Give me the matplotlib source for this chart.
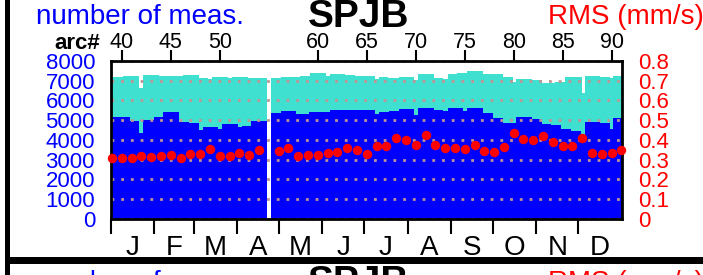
import matplotlib
matplotlib.use("Agg")
import matplotlib.pyplot as plt
from matplotlib.patches import Rectangle

plt.rcParams['font.family'] = ['Liberation Sans', 'DejaVu Sans']
plt.rcParams['lines.scale_dashes'] = False

# ---------------- data ----------------
station = "SPJB"
months = ["J", "F", "M", "A", "M", "J", "J", "A", "S", "O", "N", "D"]
month_start_days = [0, 31, 59, 90, 120, 151, 181, 212, 243, 273, 304, 334, 365]

# total number of measurements (turquoise), step edges in day-of-year
total_edges = [0, 8.8, 20.2, 23.1, 34.5, 37.4, 51.3, 62.7, 69.1, 72.2, 83.6, 86.5,
               97.9, 100.3, 111.5, 114.6, 121.7, 135.3, 142.5, 153.7, 156.8, 167.5,
               174.6, 188.9, 191.4, 198.0, 205.6, 216.6, 219.4, 230.7, 237.5, 240.6,
               247.1, 254.3, 266.1, 273.3, 280.0, 287.1, 289.5, 300.7, 307.9, 317.4,
               324.5, 336.3, 338.8, 349.5, 356.7, 358.6, 365]
total_meas = [7190, 7220, 6630, 7270, 7220, 7250, 7290, 7150, 7090, 7190, 7120, 7190,
              7120, 7150, 0, 7150, 7200, 7260, 7380, 7260, 7330, 7270, 7220, 7100,
              7190, 7150, 7190, 7050, 7360, 7130, 7080, 7320, 7380, 7490, 7360, 7330,
              7200, 6950, 7070, 7040, 6870, 6950, 7170, 6390, 7240, 7200, 7150, 7240]

# used number of measurements (blue)
used_edges = [0, 13.6, 20.2, 23.1, 31.0, 37.4, 48.4, 55.5, 62.7, 65.5, 76.3, 79.3,
              90.8, 93.6, 100.3, 111.5, 114.6, 121.7, 132.2, 141.7, 156.8, 188.5,
              191.4, 198.5, 205.6, 216.6, 219.4, 230.7, 237.5, 240.6, 251.8, 254.7,
              266.1, 273.3, 280.0, 289.5, 300.7, 307.9, 314.3, 321.7, 328.6, 336.0,
              338.8, 349.5, 356.7, 358.6, 365]
used_meas = [5160, 4940, 4360, 5020, 5160, 5410, 4900, 4850, 4510, 4630, 4560, 4820,
             4650, 4700, 4950, 0, 5360, 5450, 5330, 5400, 5530, 5330, 5400, 5450,
             5550, 5280, 5610, 5520, 5460, 5590, 5460, 5600, 5380, 5090, 4870, 5140,
             5040, 4790, 4750, 4550, 4450, 4150, 4920, 4840, 4530, 5090]

# RMS per arc (red dots)
arcs = [39, 40, 41, 42, 43, 44, 45, 46, 47, 48, 49, 50, 51, 52, 53, 54,
        56, 57, 58, 59, 60, 61, 62, 63, 64, 65, 66, 67, 68, 69, 70, 71, 72, 73,
        74, 75, 76, 77, 78, 79, 80, 81, 82, 83, 84, 85, 86, 87, 88, 89, 90, 91]
rms = [0.309, 0.306, 0.309, 0.319, 0.311, 0.318, 0.323, 0.306, 0.328, 0.326, 0.352,
       0.319, 0.318, 0.331, 0.323, 0.348,
       0.345, 0.357, 0.318, 0.323, 0.323, 0.335, 0.340, 0.357, 0.348, 0.328, 0.369,
       0.369, 0.408, 0.399, 0.374, 0.424, 0.374, 0.357, 0.357, 0.352, 0.374, 0.345,
       0.340, 0.365, 0.436, 0.403, 0.399, 0.419, 0.390, 0.369, 0.369, 0.408, 0.331,
       0.328, 0.335, 0.348]
arc_labels = [40, 45, 50, 60, 65, 70, 75, 80, 85, 90]
arc_range = (38.886, 91.029)   # arc numbers at day 0 and day 365
meas_ticks = list(range(0, 8001, 1000))
rms_ticks = [0, 0.1, 0.2, 0.3, 0.4, 0.5, 0.6, 0.7, 0.8]

# ---------------- figure ----------------
W, H = 703, 275
fig = plt.figure(figsize=(W / 100, H / 100), dpi=100)
L, R, T, B = 111, 621.7, 61, 218.6
rect = [L / W, 1 - B / H, (R - L) / W, (B - T) / H]

ax = fig.add_axes(rect)
ax.set_xlim(0, 365)
ax.set_ylim(0, 8000)
ax.stairs(total_meas, total_edges, fill=True, color='#40e0d0', zorder=1)
ax.stairs(used_meas, used_edges, fill=True, color='#0000ff', zorder=2)
ax.set_axisbelow(False)
ax.yaxis.grid(True, color='#c09494', linestyle=(0, (2.0, 5.0)), linewidth=2.0)
for s in ax.spines.values():
    s.set_linewidth(2.0)
    s.set_zorder(4)

ax.set_yticks(meas_ticks)
ax.set_yticklabels([str(v) for v in meas_ticks])
ax.tick_params(axis='y', length=0, pad=11.5, labelsize=16, labelcolor='#0000ff')

mid = [(a + b) / 2 for a, b in zip(month_start_days[:-1], month_start_days[1:])]
ax.set_xticks(month_start_days[:-1])
ax.set_xticklabels([])
ax.set_xticks(mid, minor=True)
ax.set_xticklabels(months, minor=True)
ax.tick_params(axis='x', which='major', direction='out', length=11, width=1.5,
               color='black')
ax.tick_params(axis='x', which='minor', length=0, pad=12, labelsize=20)

ax_r = fig.add_axes(rect, frameon=False)
ax_r.patch.set_visible(False)
ax_r.set_xlim(*arc_range)
ax_r.set_ylim(0, 0.8)
ax_r.plot(arcs, rms, 'o', color='#ff0000', markersize=6.8, markeredgewidth=0,
          clip_on=False, zorder=5)
ax_r.yaxis.tick_right()
ax_r.set_yticks(rms_ticks)
ax_r.set_yticklabels(['0' if v == 0 else f'{v:.1f}' for v in rms_ticks])
ax_r.tick_params(axis='y', length=0, pad=11.5, labelsize=16, labelcolor='#ff0000')
ax_r.xaxis.tick_top()
ax_r.set_xticks(arc_labels)
ax_r.set_xticklabels([str(a) for a in arc_labels])
ax_r.tick_params(axis='x', direction='out', length=8, width=1.5, pad=-2.5,
                 labelsize=15.5)

# ---------------- texts ----------------
def panel_texts(dy):
    fig.text(36 / W, 1 - (24 + dy) / H, "number of meas.", color='#0000ff',
             fontsize=20, ha='left', va='baseline')
    fig.text(359 / W, 1 - (27 + dy) / H, station, color='black', fontsize=28,
             fontweight='bold', ha='center', va='baseline')
    fig.text(704 / W, 1 - (24.5 + dy) / H, "RMS (mm/s)", color='#ff0000',
             fontsize=20, ha='right', va='baseline')

panel_texts(0)
fig.text(100 / W, 1 - 49 / H, "arc#", color='black', fontsize=16,
         fontweight='bold', ha='right', va='baseline')
panel_texts(266)

# page frame
fig.add_artist(Rectangle((5 / W, 0), 4.5 / W, 1, transform=fig.transFigure,
                         color='black', lw=0))
fig.add_artist(Rectangle((5 / W, 1 - 264 / H), 1 - 5 / W, 7 / H,
                         transform=fig.transFigure, color='black', lw=0))

fig.savefig("out.png", dpi=100)
